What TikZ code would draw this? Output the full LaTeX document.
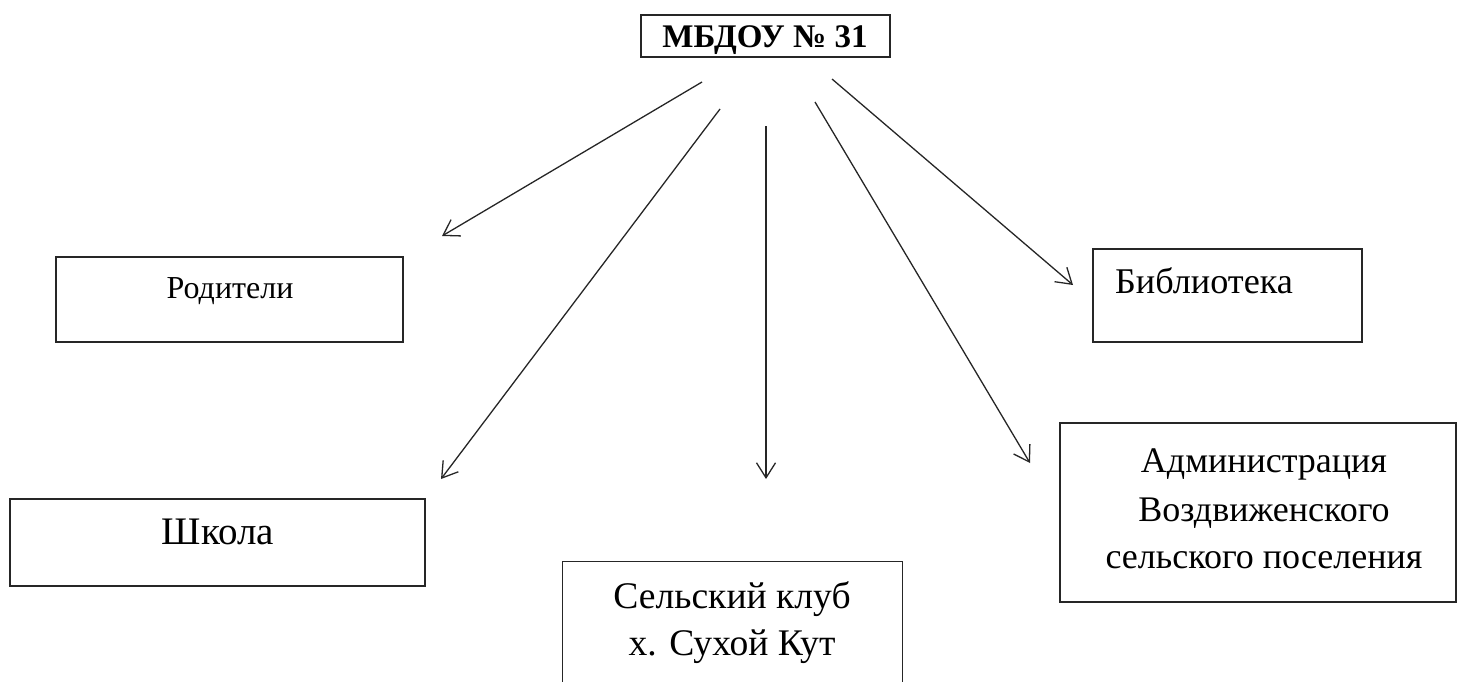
\documentclass[tikz,border=0pt]{standalone}
\usepackage{fontspec}
\setmainfont{Liberation Serif}
\usetikzlibrary{arrows.meta}
\tikzset{
  boxstyle/.style={draw=black!85, line width=1.3pt, rectangle, inner sep=0pt},
  lbl/.style={anchor=base, inner sep=0pt, align=center},
  conn/.style={draw=black!85, line width=1.3pt, -{Straight Barb[length=15pt,width=19pt,line width=1.3pt]}},
}
\begin{document}
\begin{tikzpicture}[x=1pt,y=-1pt]
\useasboundingbox (0,0) rectangle (1458,681);
% boxes
\node[boxstyle, minimum width=249pt, minimum height=42pt] (top) at (765.5,36) {};
\node[lbl, font=\fontsize{33}{38}\bfseries\selectfont] (toptext) at (765,47) {МБДОУ № 31};

\node[boxstyle, minimum width=347pt, minimum height=85pt] (rod) at (229.5,299.5) {};
\node[lbl, font=\fontsize{32}{38}\selectfont] (rodtext) at (230,298) {Родители};

\node[boxstyle, minimum width=415pt, minimum height=87pt] (shk) at (217.5,542.5) {};
\node[lbl, font=\fontsize{39}{46}\selectfont] (shktext) at (218,544) {Школа};

\node[boxstyle, minimum width=269pt, minimum height=93pt] (bib) at (1227.5,295.5) {};
\node[lbl, anchor=base west, font=\fontsize{36.2}{42}\selectfont] (bibtext) at (1115,293) {Библиотека};

\node[boxstyle, minimum width=396pt, minimum height=179pt] (adm) at (1258,512.5) {};
\node[lbl, font=\fontsize{36}{47}\selectfont] (admtext1) at (1264,472) {Администрация};
\node[lbl, font=\fontsize{36}{47}\selectfont] (admtext2) at (1264,521) {Воздвиженского};
\node[lbl, font=\fontsize{36}{47}\selectfont] (admtext3) at (1264,568) {сельского поселения};

\node[draw=none, inner sep=0pt, minimum width=339pt, minimum height=122pt] (klub) at (732.5,623) {};
\draw[draw=black!85, line width=1.3pt] (klub.south west) -- (klub.north west) -- (klub.north east) -- (klub.south east);
\node[lbl, font=\fontsize{37.6}{47}\selectfont] (klubtext1) at (732,608) {Сельский клуб};
\node[lbl, font=\fontsize{37.6}{47}\selectfont] (klubtext2) at (732,655) {х. Сухой Кут};

% connector ends
\coordinate (s1) at (702,82);   \coordinate (t1) at (442,236);
\coordinate (s2) at (720,109);  \coordinate (t2) at (441,479);
\coordinate (s3) at (766,126);  \coordinate (t3) at (766,479);
\coordinate (s4) at (815,102);  \coordinate (t4) at (1030,463);
\coordinate (s5) at (832,79);   \coordinate (t5) at (1073,285);

\draw[conn] (s1) -- (t1);
\draw[conn] (s2) -- (t2);
\draw[conn] (s3) -- (t3);
\draw[conn] (s4) -- (t4);
\draw[conn] (s5) -- (t5);
\end{tikzpicture}
\end{document}
